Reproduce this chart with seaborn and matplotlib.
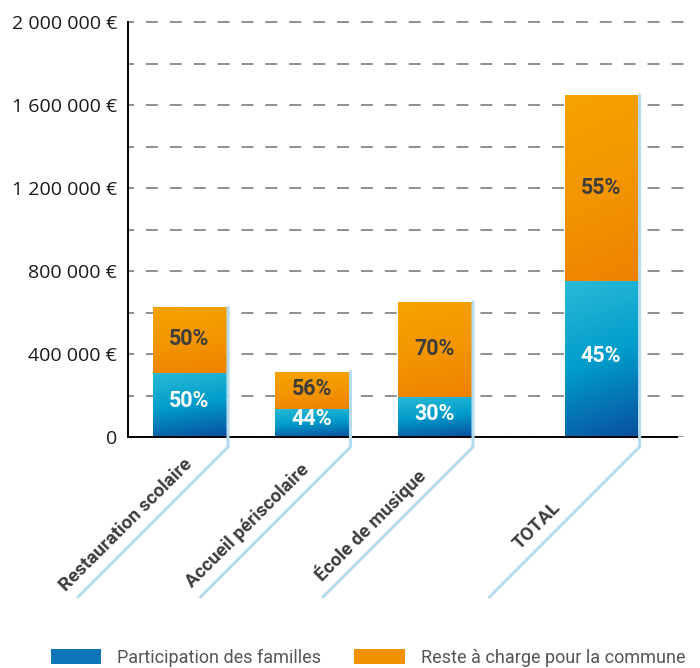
import numpy as np
import pandas as pd
import seaborn as sns
import matplotlib.pyplot as plt
from matplotlib.patches import Patch
from matplotlib.lines import Line2D
from matplotlib.colors import to_rgb

# chart data
categories = ['Restauration scolaire', 'Accueil périscolaire', 'École de musique', 'TOTAL']
familles = [310000, 137000, 193000, 750000]
commune = [315000, 178000, 459000, 898000]
pct_familles = ['50%', '44%', '30%', '45%']
pct_commune = ['50%', '56%', '70%', '55%']
ytick_values = [0, 400000, 800000, 1200000, 1600000, 2000000]
ytick_labels = ['0', '400 000 €', '800 000 €', '1 200 000 €', '1 600 000 €', '2 000 000 €']
legend_labels = ['Participation des familles', 'Reste à charge pour la commune']

sns.set_style('white')
plt.rcParams['font.family'] = ['Roboto', 'DejaVu Sans']
plt.rcParams['lines.scale_dashes'] = False

blue = '#0e76b8'
orange = '#f39200'
line_blue = '#b5dcee'

xpos = [0, 1, 2, 3.36]  # TOTAL sits a bit apart from the others
df = pd.DataFrame({'cat': categories, 'x': xpos, 'familles': familles, 'commune': commune})
df['total'] = df['familles'] + df['commune']

fig = plt.figure(figsize=(7, 6.68), dpi=100)
ax = fig.add_axes([128 / 700, 231 / 668, 562 / 700, 415 * 1.01 / 668])

bw = 0.596
sns.barplot(data=df, x='x', y='total', native_scale=True, width=bw, color=orange,
            saturation=1, errorbar=None, linewidth=0, ax=ax)
sns.barplot(data=df, x='x', y='familles', native_scale=True, width=bw, color=blue,
            saturation=1, errorbar=None, linewidth=0, ax=ax)

xlim = (-0.502, 4.086)
ylim = (0, 2020000)


def grad(stops, n=80, tilt=0.15):
    t = np.linspace(0, 1, n)[:, None]
    s = np.linspace(0, 1, n)[None, :]
    u = np.clip((1 - tilt) * t + tilt * s, 0, 1)
    cols = np.array([to_rgb(c) for c in stops])
    pos = np.linspace(0, 1, len(cols))
    img = np.stack([np.interp(u, pos, cols[:, k]) for k in range(3)], axis=-1)
    return img


orange_grad = grad(['#f6a300', '#f39600', '#ee8100'])
blue_grad = grad(['#2bbad6', '#009ccb', '#0a4f9f'])

patches = list(ax.patches)
for i, p in enumerate(patches):
    x0, w = p.get_x(), p.get_width()
    if i >= len(categories):
        y1, y0 = familles[i - len(categories)], 0
    else:
        y0, y1 = familles[i], familles[i] + commune[i]
    img = orange_grad if i < len(categories) else blue_grad
    im = ax.imshow(img, extent=[x0, x0 + w, y0, y1], origin='upper', aspect='auto',
                   zorder=2, interpolation='bilinear')
    im.set_clip_path(p)

ax.set_xlim(*xlim)
ax.set_ylim(*ylim)

# percentage labels
for i in range(len(categories)):
    ax.annotate(pct_familles[i], (xpos[i], familles[i] / 2), xytext=(0, 2.5),
                textcoords='offset points', ha='center', va='center',
                color='white', fontsize=15.5, fontweight='bold', zorder=5)
    ax.annotate(pct_commune[i], (xpos[i], familles[i] + commune[i] / 2), xytext=(0, 0.5),
                textcoords='offset points', ha='center', va='center',
                color='#3c3c3c', fontsize=15.5, fontweight='bold', zorder=5)

# axes styling
ax.set_yticks(ytick_values)
ax.set_yticklabels(ytick_labels, fontsize=14, color='#1a1a1a',
                   family=['Open Sans', 'DejaVu Sans'])
ax.set_yticks(np.arange(0, 2000001, 200000), minor=True)
ax.tick_params(axis='y', which='both', length=0, pad=8)
ax.grid(True, axis='y', which='both', color='#8f8f8f', lw=1.4, ls=(4.3, (8.6, 8.6)))
ax.set_axisbelow(True)
ax.set_xticks([0.5, 1.5, 2.5, 3.98])
ax.set_xticklabels([])
ax.tick_params(axis='x', direction='in', length=9.5, width=1.4, color='#666666')
ax.set_xlabel('')
ax.set_ylabel('')
for s in ['top', 'right']:
    ax.spines[s].set_visible(False)
ax.spines['left'].set_bounds(0, 2000000)
ax.spines['left'].set_color('black')
ax.spines['left'].set_linewidth(1.4)
ax.spines['bottom'].set_bounds(xlim[0], 3.98)
ax.spines['bottom'].set_color('black')
ax.spines['bottom'].set_linewidth(1.4)

# light blue leader lines and rotated category labels (drawn in pixel space)
to_fig = fig.transFigure.inverted()
d = np.array([-1.0, -1.0]) / np.sqrt(2)
nrm = np.array([-1.0, 1.0]) / np.sqrt(2)
for i, cat in enumerate(categories):
    top = ax.transData.transform((xpos[i] + bw / 2, familles[i] + commune[i]))
    base = ax.transData.transform((xpos[i] + bw / 2, 0))
    xr = top[0] + 2
    corner = np.array([xr, base[1] - 10])
    end = corner + 150 * np.sqrt(2) * d
    pts = np.array([[xr, top[1]], corner, end])
    fp = to_fig.transform(pts)
    fig.add_artist(Line2D(fp[:, 0], fp[:, 1], color=line_blue, lw=2.2,
                          transform=fig.transFigure, zorder=1))
    lab = corner + 128 * d + 17 * nrm
    lf = to_fig.transform(lab)
    fig.text(lf[0], lf[1], cat, rotation=45, rotation_mode='anchor', ha='center', va='center',
             fontsize=13.5, fontweight='bold', color='#3d3d3d')

handles = [Patch(facecolor=blue, edgecolor='none'), Patch(facecolor=orange, edgecolor='none')]
fig.legend(handles, legend_labels, loc='lower left', bbox_to_anchor=(51 / 700, 0.002),
           ncol=2, frameon=False, labelcolor='#555555', handlelength=2.77,
           handleheight=0.89, handletextpad=0.89, columnspacing=1.85, borderpad=0,
           borderaxespad=0, prop={'family': ['Roboto', 'DejaVu Sans'], 'size': 13})

fig.savefig('out.png', dpi=100)
